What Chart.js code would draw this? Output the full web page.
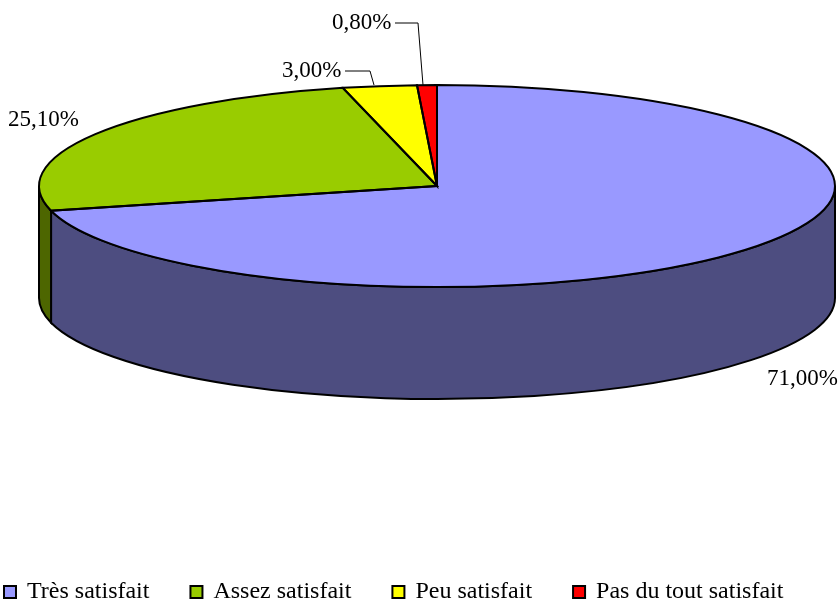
<!DOCTYPE html>
<html>
<head>
<meta charset="utf-8">
<script src="https://cdn.jsdelivr.net/npm/chart.js@4.4.1/dist/chart.umd.min.js"></script>
<style>
  body { margin: 0; background: #ffffff; }
  canvas { display: block; }
</style>
</head>
<body>
<canvas id="satisfactionChart" width="839" height="602"></canvas>
<script>
// Data
const categories = ['Très satisfait', 'Assez satisfait', 'Peu satisfait', 'Pas du tout satisfait'];
const percentages = [71.0, 25.1, 3.0, 0.8];

// Styles
const topColors = ['#9999FF', '#99CC00', '#FFFF00', '#FF0000'];
const sideColors = ['#4D4D80', '#4D6600', '#808000', '#800000'];
const labelFont = '23px "Liberation Serif", "Times New Roman", serif';
const legendFont = '24px "Liberation Serif", "Times New Roman", serif';

// Ellipse geometry of the tilted pie
const pie3d = { cx: 437, cy: 186, rx: 398, ry: 101, depth: 112 };

// Label placement (left x, baseline y) and leader lines
const labelSpots = [
  { x: 767, y: 385 },
  { x: 8, y: 126 },
  { x: 282, y: 77 },
  { x: 332, y: 29 }
];
const leaders = [
  null,
  null,
  [[345, 71], [370, 71], [374, 85]],
  [[395, 23], [418, 23], [423, 85]]
];

const formatPct = (v) => v.toFixed(2).replace('.', ',') + '%';

const getArcs = (chart) => chart.getDatasetMeta(0).data.map(el => el.getProps(['x', 'y', 'startAngle', 'endAngle', 'outerRadius'], true));

const pie3dPlugin = {
  id: 'pie3d',
  beforeDatasetsDraw(chart) {
    const ctx = chart.ctx;
    const { cx, cy, rx, ry, depth } = pie3d;
    const arcs = getArcs(chart);

    // side walls (front half only)
    ctx.save();
    ctx.lineWidth = 2;
    ctx.strokeStyle = '#000000';
    arcs.forEach((a, i) => {
      const lo = Math.max(a.startAngle, 0);
      const hi = Math.min(a.endAngle, Math.PI);
      if (lo >= hi) return;
      ctx.beginPath();
      ctx.ellipse(cx, cy, rx, ry, 0, lo, hi, false);
      ctx.ellipse(cx, cy + depth, rx, ry, 0, hi, lo, true);
      ctx.closePath();
      ctx.fillStyle = sideColors[i];
      ctx.fill();
      ctx.stroke();
    });
    ctx.restore();

    // squash the library's circular arcs onto the ellipse
    const a0 = arcs[0];
    ctx.save();
    ctx.translate(cx, cy);
    ctx.scale(rx / a0.outerRadius, ry / a0.outerRadius);
    ctx.translate(-a0.x, -a0.y);
  },
  afterDatasetsDraw(chart) {
    const ctx = chart.ctx;
    ctx.restore();
    const { cx, cy, rx, ry } = pie3d;

    // top face outlines
    ctx.save();
    ctx.lineWidth = 2;
    ctx.strokeStyle = '#000000';
    getArcs(chart).forEach(a => {
      ctx.beginPath();
      ctx.moveTo(cx, cy);
      ctx.ellipse(cx, cy, rx, ry, 0, a.startAngle, a.endAngle, false);
      ctx.closePath();
      ctx.stroke();
    });
    ctx.restore();
  },
  afterDraw(chart) {
    const ctx = chart.ctx;
    ctx.save();

    // percentage labels
    ctx.font = labelFont;
    ctx.fillStyle = '#000000';
    ctx.textAlign = 'left';
    ctx.textBaseline = 'alphabetic';
    percentages.forEach((v, i) => {
      ctx.fillText(formatPct(v), labelSpots[i].x, labelSpots[i].y);
    });
    ctx.strokeStyle = '#000000';
    ctx.lineWidth = 1;
    leaders.forEach(pts => {
      if (!pts) return;
      ctx.beginPath();
      ctx.moveTo(pts[0][0], pts[0][1]);
      pts.slice(1).forEach(p => ctx.lineTo(p[0], p[1]));
      ctx.stroke();
    });

    // legend
    ctx.font = legendFont;
    let x = 4;
    const baseline = 598;
    categories.forEach((name, i) => {
      ctx.fillStyle = topColors[i];
      ctx.fillRect(x, 586, 12, 12);
      ctx.strokeStyle = '#000000';
      ctx.lineWidth = 2;
      ctx.strokeRect(x, 586, 12, 12);
      ctx.fillStyle = '#000000';
      ctx.fillText(name, x + 23, baseline);
      x += 23 + ctx.measureText(name).width + 41;
    });
    ctx.restore();
  }
};

const satisfactionChart = new Chart(document.getElementById('satisfactionChart'), {
  type: 'pie',
  data: {
    labels: categories,
    datasets: [{
      data: percentages,
      backgroundColor: topColors,
      borderWidth: 0,
      clip: false
    }]
  },
  options: {
    responsive: false,
    animation: false,
    events: [],
    layout: { padding: { bottom: 60 } },
    plugins: {
      legend: { display: false },
      tooltip: { enabled: false }
    }
  },
  plugins: [pie3dPlugin]
});
</script>
</body>
</html>
